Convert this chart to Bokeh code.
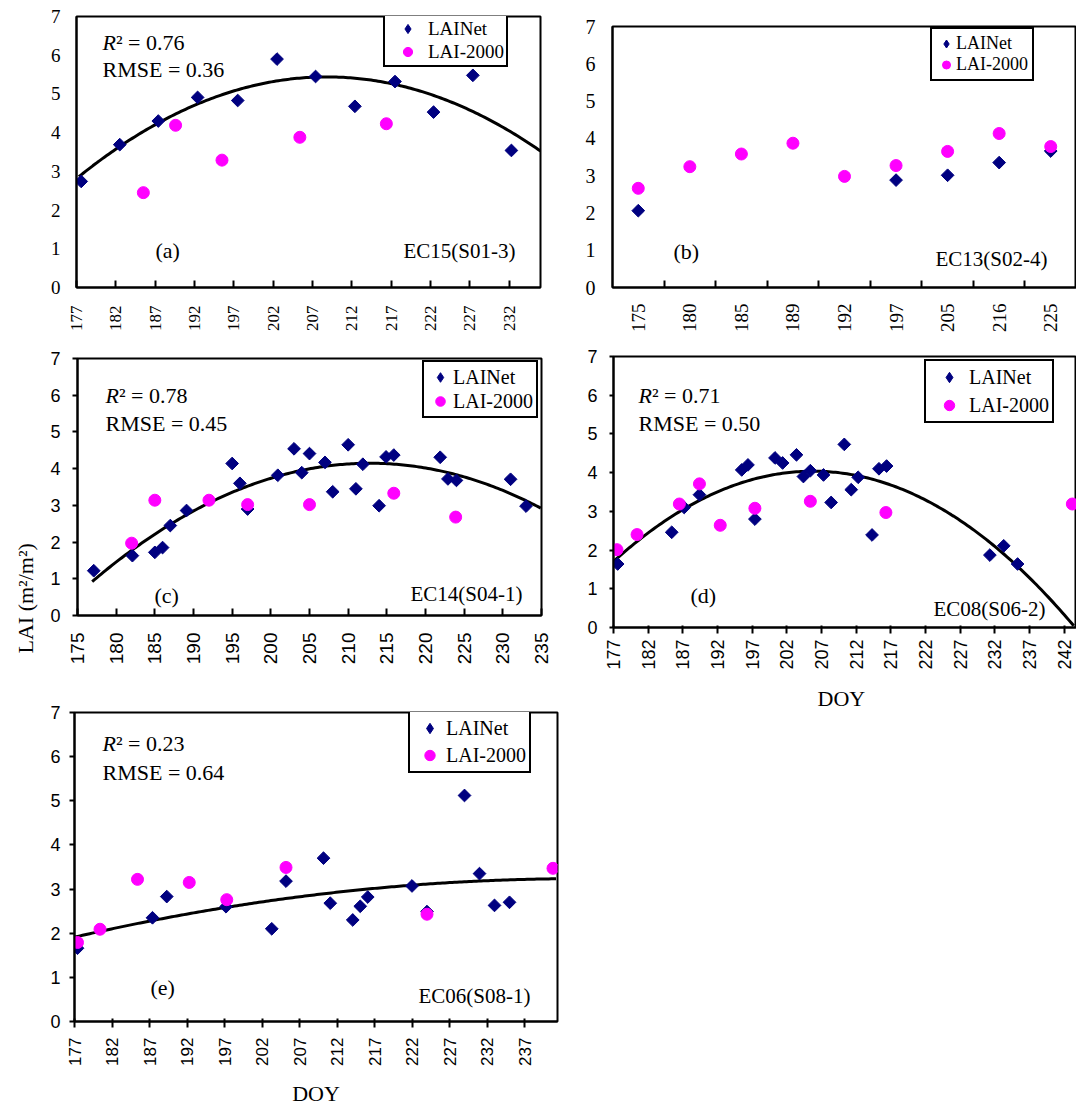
import numpy as np
from math import pi
from bokeh.plotting import figure
from bokeh.models import Range1d, FixedTicker, Label, Legend, LegendItem, Title, Spacer
from bokeh.layouts import column, row
from bokeh.embed import file_html
from bokeh.resources import INLINE

SERIF = "Liberation Serif"
SANS = "Liberation Sans"
NAVY = "#000080"
MAGENTA = "#FF00FF"

# ---------------- data ----------------
# (a) EC15(S01-3)
a_net_doy = [177.6, 182.5, 187.4, 192.4, 197.5, 202.5, 207.4, 212.4, 217.5, 222.4, 227.4, 232.3]
a_net_lai = [2.74, 3.69, 4.30, 4.91, 4.83, 5.90, 5.45, 4.68, 5.32, 4.53, 5.48, 3.54]
a_l2k_doy = [185.5, 189.6, 195.5, 205.4, 216.4]
a_l2k_lai = [2.45, 4.19, 3.29, 3.88, 4.23]
a_trend_doy = [177.3, 192.4, 209.5, 222.5, 236.0]
a_trend_lai = [2.87, 4.72, 5.45, 4.96, 3.52]
a_ticks = [177, 182, 187, 192, 197, 202, 207, 212, 217, 222, 227, 232]

# (b) EC13(S02-4) -- categorical DOY axis
b_doy_labels = ["175", "180", "185", "189", "192", "197", "205", "216", "225"]
b_net_lai = [2.06, None, None, None, None, 2.88, 3.01, 3.35, 3.66]
b_l2k_lai = [2.66, 3.24, 3.58, 3.87, 2.98, 3.27, 3.65, 4.13, 3.78]

# (c) EC14(S04-1)
c_net_doy = [177.1, 182.1, 185.0, 186.0, 187.0, 189.1, 195.0, 196.0, 197.0, 200.9, 203.0, 204.0,
             205.0, 207.0, 208.0, 210.0, 211.0, 211.9, 214.0, 214.9, 215.9, 221.9, 222.9, 224.0,
             231.0, 233.0]
c_net_lai = [1.22, 1.63, 1.72, 1.85, 2.45, 2.86, 4.14, 3.60, 2.90, 3.82, 4.54, 3.89,
             4.41, 4.17, 3.37, 4.65, 3.45, 4.12, 2.99, 4.32, 4.37, 4.31, 3.72, 3.68,
             3.71, 2.98]
c_l2k_doy = [182.0, 185.0, 192.0, 197.0, 205.0, 215.9, 223.9]
c_l2k_lai = [1.97, 3.14, 3.14, 3.02, 3.02, 3.33, 2.68]
c_trend_doy = [176.9, 189.0, 200.9, 213.7, 222.9, 234.9]
c_trend_lai = [0.91, 2.75, 3.80, 4.14, 3.87, 2.94]
c_ticks = [175, 180, 185, 190, 195, 200, 205, 210, 215, 220, 225, 230, 235]

# (d) EC08(S06-2)
d_net_doy = [177.6, 185.4, 187.2, 189.4, 195.5, 196.4, 197.4, 200.3, 201.4, 203.4, 204.4, 205.4,
             207.3, 208.4, 210.3, 211.3, 212.3, 214.3, 215.3, 216.4, 231.3, 233.3, 235.3]
d_net_lai = [1.64, 2.46, 3.10, 3.43, 4.07, 4.20, 2.80, 4.38, 4.25, 4.46, 3.90, 4.05,
             3.94, 3.23, 4.73, 3.56, 3.88, 2.39, 4.10, 4.17, 1.87, 2.11, 1.64]
d_l2k_doy = [177.5, 180.4, 186.5, 189.4, 192.4, 197.4, 205.4, 216.3, 243.2]
d_l2k_lai = [2.01, 2.40, 3.19, 3.71, 2.64, 3.08, 3.26, 2.97, 3.19]
d_trend_doy = [177.0, 189.4, 206.9, 220.7, 231.3, 243.4]
d_trend_lai = [1.72, 3.27, 4.00, 3.40, 2.28, 0.0]
d_ticks = [177, 182, 187, 192, 197, 202, 207, 212, 217, 222, 227, 232, 237, 242]

# (e) EC06(S08-1)
e_net_doy = [177.4, 187.4, 189.3, 197.2, 203.3, 205.2, 210.2, 211.1, 214.1, 215.1, 216.1, 222.0,
             224.0, 229.0, 231.0, 233.0, 235.0]
e_net_lai = [1.66, 2.35, 2.83, 2.60, 2.10, 3.18, 3.70, 2.68, 2.30, 2.61, 2.82, 3.07,
             2.49, 5.12, 3.35, 2.63, 2.70]
e_l2k_doy = [177.4, 180.4, 185.4, 192.3, 197.3, 205.2, 224.0, 240.8]
e_l2k_lai = [1.79, 2.09, 3.22, 3.15, 2.76, 3.49, 2.43, 3.47]
e_trend_doy = [177.1, 187.4, 206.6, 222.0, 241.2]
e_trend_lai = [1.91, 2.30, 2.80, 3.10, 3.23]
e_ticks = [177, 182, 187, 192, 197, 202, 207, 212, 217, 222, 227, 232, 237]

y_ticks = [0, 1, 2, 3, 4, 5, 6, 7]
stats = {"a": ("0.76", "0.36"), "c": ("0.78", "0.45"), "d": ("0.71", "0.50"), "e": ("0.23", "0.64")}
sites = {"a": "EC15(S01-3)", "b": "EC13(S02-4)", "c": "EC14(S04-1)", "d": "EC08(S06-2)", "e": "EC06(S08-1)"}
x_title = "DOY"
y_title = "LAI (m\u00b2/m\u00b2)"


# ---------------- helpers ----------------
def new_fig(w, h, left, right, top, bottom, x0, x1):
    p = figure(width=w, height=h, x_range=Range1d(x0, x1), y_range=Range1d(0, 7),
               output_backend="svg", toolbar_location=None, title=None,
               min_border_left=left, min_border_right=right,
               min_border_top=top, min_border_bottom=bottom)
    p.xgrid.visible = False
    p.ygrid.visible = False
    p.outline_line_color = "black"
    p.outline_line_width = 2
    p.outline_line_alpha = 1
    p.background_fill_color = "white"
    p.border_fill_color = "white"
    return p


def style_axes(p, xs, ys):
    xa = p.xaxis[0]
    ya = p.yaxis[0]
    for ax, s in ((xa, xs), (ya, ys)):
        ax.axis_line_color = "black"
        ax.axis_line_width = 2
        ax.major_tick_line_color = "black"
        ax.major_tick_line_width = 2
        ax.major_tick_in = s["tin"]
        ax.major_tick_out = s["tout"]
        ax.minor_tick_line_color = None
        ax.major_label_text_font = s["font"]
        ax.major_label_text_font_size = f'{s["size"]}px'
        ax.major_label_text_color = "black"
        ax.major_label_standoff = s["standoff"]
    xa.major_label_orientation = pi / 2


def add_xlabel(p, text, standoff):
    xa = p.xaxis[0]
    xa.axis_label = text
    xa.axis_label_text_font = SERIF
    xa.axis_label_text_font_size = "22px"
    xa.axis_label_text_font_style = "normal"
    xa.axis_label_text_color = "black"
    xa.axis_label_standoff = standoff


def add_text(p, text, x, y, size, font=SERIF, style="normal", align="left",
             baseline="alphabetic", angle=0.0):
    p.add_layout(Label(x=x, y=y, x_units="screen", y_units="screen", text=text,
                       text_font=font, text_font_size=f"{size}px", text_font_style=style,
                       text_align=align, text_baseline=baseline, angle=angle,
                       text_color="black"))


def add_points(p, nx, ny, lx, ly):
    r_net = p.scatter(nx, ny, marker="square", angle=pi / 4, size=9,
                      fill_color=NAVY, line_color=NAVY)
    # diamond glyph used only as the legend swatch for LAINet
    r_net_key = p.scatter(nx[:1], ny[:1], marker="diamond", size=12,
                          fill_color=NAVY, line_color=NAVY, visible=False)
    r_l2k = p.scatter(lx, ly, marker="circle", size=12,
                      fill_color=MAGENTA, line_color=MAGENTA)
    return r_net, r_net_key, r_l2k


def add_legend(p, r_key, r_l2k, loc, pad, gw, gh, standoff, spacing, size):
    lg = Legend(items=[LegendItem(label="LAINet", renderers=[r_key]),
                       LegendItem(label="LAI-2000", renderers=[r_l2k])],
                location=loc, padding=pad, margin=0, spacing=spacing,
                glyph_width=gw, glyph_height=gh, label_standoff=standoff,
                label_height=18, label_text_font=SERIF,
                label_text_font_size=f"{size}px", label_text_color="black",
                border_line_color="black", border_line_width=2, border_line_alpha=1,
                background_fill_color="white", background_fill_alpha=1)
    p.add_layout(lg)


def add_trend(p, tx, ty):
    coef = np.polyfit(tx, ty, 2)
    xs = np.linspace(tx[0], tx[-1], 200)
    p.line(xs, np.polyval(coef, xs), line_color="black", line_width=3)


def add_stats(p, key, x, y_r2, y_rmse):
    r2, rmse = stats[key]
    add_text(p, "R", x, y_r2, 22, style="italic")
    add_text(p, f"\u00b2 = {r2}", x + 13.5, y_r2, 22)
    add_text(p, f"RMSE = {rmse}", x, y_rmse, 22)


# ---------------- panel (a) ----------------
pa = new_fig(542, 345, 76, 2, 16, 58, 177, 236)
pa.xaxis.ticker = FixedTicker(ticks=a_ticks)
pa.yaxis.ticker = FixedTicker(ticks=y_ticks)
style_axes(pa, dict(tin=7, tout=0, font=SERIF, size=17, standoff=18),
           dict(tin=0, tout=0, font=SERIF, size=19, standoff=16))
add_trend(pa, a_trend_doy, a_trend_lai)
_, ka, la = add_points(pa, a_net_doy, a_net_lai, a_l2k_doy, a_l2k_lai)
add_stats(pa, "a", 26, 245, 218.5)
add_text(pa, "(a)", 79, 37, 22)
add_text(pa, sites["a"], 327, 37, 21)
add_legend(pa, ka, la, (307, 220), 2, 41, 23, -9, 0, 19)

# ---------------- panel (b) ----------------
nb = len(b_doy_labels)
b_pos = [i + 0.5 for i in range(nb)]
b_net_pos = [b_pos[i] for i, v in enumerate(b_net_lai) if v is not None]
b_net_val = [v for v in b_net_lai if v is not None]
pb = new_fig(534, 335, 70, 0, 16, 58, 0, nb)
pb.xaxis.ticker = FixedTicker(ticks=b_pos, minor_ticks=list(range(1, nb)))
pb.xaxis.major_label_overrides = {b_pos[i]: b_doy_labels[i] for i in range(nb)}
pb.yaxis.ticker = FixedTicker(ticks=y_ticks)
style_axes(pb, dict(tin=0, tout=0, font=SERIF, size=19, standoff=16),
           dict(tin=0, tout=0, font=SERIF, size=20, standoff=17))
pb.xaxis.minor_tick_line_color = "black"
pb.xaxis.minor_tick_line_width = 2
pb.xaxis.minor_tick_in = 7
pb.xaxis.minor_tick_out = 0
_, kb, lb = add_points(pb, b_net_pos, b_net_val, b_pos, b_l2k_lai)
add_text(pb, "(b)", 61, 36, 22)
add_text(pb, sites["b"], 323, 29, 21)
add_legend(pb, kb, lb, (318, 206), 4, 20, 21, -5, 0, 18)

# ---------------- panel (c) ----------------
pc = new_fig(553, 321, 74, 12, 11, 53, 175, 235)
pc.xaxis.ticker = FixedTicker(ticks=c_ticks)
pc.yaxis.ticker = FixedTicker(ticks=y_ticks)
style_axes(pc, dict(tin=7, tout=0, font=SANS, size=19, standoff=17),
           dict(tin=0, tout=5, font=SANS, size=18, standoff=12))
add_trend(pc, c_trend_doy, c_trend_lai)
_, kc, lc = add_points(pc, c_net_doy, c_net_lai, c_l2k_doy, c_l2k_lai)
add_stats(pc, "c", 28, 220, 192)
add_text(pc, "(c)", 77, 20, 22)
add_text(pc, sites["c"], 333, 22, 21)
add_legend(pc, kc, lc, (345, 197), 3, 26, 24, -5, 0, 20)
pc.add_layout(Title(text=y_title, align="left", offset=-38, standoff=20,
                    text_font=SERIF, text_font_size="22px", text_font_style="normal",
                    text_color="black"), "left")

# ---------------- panel (d) ----------------
pd_ = new_fig(523, 335, 60, 0, 11, 53, 177, 243.8)
pd_.xaxis.ticker = FixedTicker(ticks=d_ticks)
pd_.yaxis.ticker = FixedTicker(ticks=y_ticks)
style_axes(pd_, dict(tin=2, tout=6, font=SANS, size=18, standoff=6),
           dict(tin=0, tout=4, font=SANS, size=18, standoff=12))
add_trend(pd_, d_trend_doy, d_trend_lai)
_, kd, ld = add_points(pd_, d_net_doy, d_net_lai, d_l2k_doy, d_l2k_lai)
add_stats(pd_, "d", 25, 232, 204)
add_text(pd_, "(d)", 77, 32, 22)
add_text(pd_, sites["d"], 320, 19, 21)
add_legend(pd_, kd, ld, (311, 204), 3, 40, 26, -8, 2, 20)

# ---------------- panel (e) ----------------
# the canvas spans the full width so that the x title of panel (d), which sits
# just above this row, can be drawn in its top border
pe = new_fig(1076, 430, 74, 519, 32, 89, 177, 241.4)
pe.xaxis.ticker = FixedTicker(ticks=e_ticks)
pe.yaxis.ticker = FixedTicker(ticks=y_ticks)
style_axes(pe, dict(tin=3, tout=6, font=SANS, size=17, standoff=10),
           dict(tin=0, tout=5, font=SANS, size=18, standoff=9))
add_trend(pe, e_trend_doy, e_trend_lai)
_, ke, le = add_points(pe, e_net_doy, e_net_lai, e_l2k_doy, e_l2k_lai)
add_stats(pe, "e", 28, 278, 249)
add_text(pe, "(e)", 76, 34, 22)
add_text(pe, sites["e"], 344, 26, 21)
add_legend(pe, ke, le, (334, 248), 3, 33, 26, -3, 1, 20)
add_xlabel(pe, x_title, 12)
pe.add_layout(Title(text=x_title, align="left", offset=743, standoff=4,
                    vertical_align="bottom", text_font=SERIF, text_font_size="22px",
                    text_font_style="normal", text_color="black"), "above")

# spacers reproduce the different frame tops of the panels within a row
layout = column(
    row(pa, column(Spacer(width=534, height=10), pb)),
    row(column(Spacer(width=553, height=2), pc), pd_),
    pe,
)
open("out.html", "w").write(file_html(layout, INLINE))
